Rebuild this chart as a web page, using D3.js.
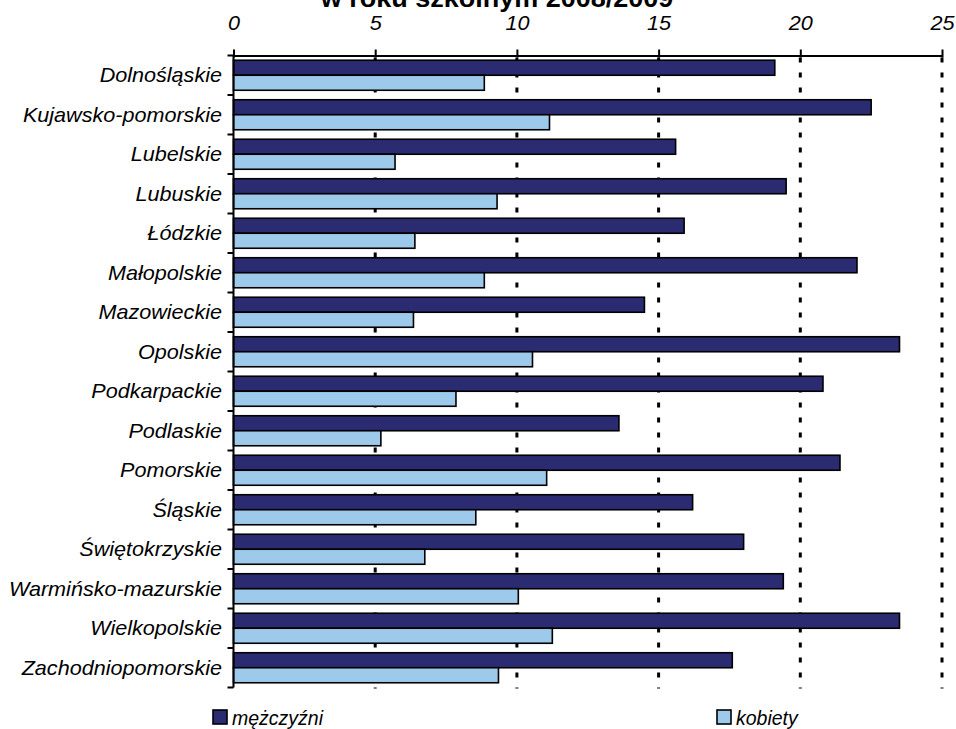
<!DOCTYPE html>
<html>
<head>
<meta charset="utf-8">
<script src="https://cdn.jsdelivr.net/npm/d3@7"></script>
<style>
  html, body { margin: 0; padding: 0; background: #fff; }
  svg { display: block; }
  text { font-family: "Liberation Sans", Arial, sans-serif; }
</style>
</head>
<body>
<svg id="chart" width="956" height="729"></svg>
<script>
// ---- data ----
const titleText = "w roku szkolnym 2008/2009";
const categories = [
  "Dolnośląskie", "Kujawsko-pomorskie", "Lubelskie", "Lubuskie", "Łódzkie",
  "Małopolskie", "Mazowieckie", "Opolskie", "Podkarpackie", "Podlaskie",
  "Pomorskie", "Śląskie", "Świętokrzyskie", "Warmińsko-mazurskie",
  "Wielkopolskie", "Zachodniopomorskie"
];
const seriesNames = ["mężczyźni", "kobiety"];
const men   = [19.1, 22.5, 15.6, 19.5, 15.9, 22.0, 14.5, 23.5, 20.8, 13.6, 21.4, 16.2, 18.0, 19.4, 23.5, 17.6];
const women = [8.85, 11.15, 5.7, 9.3, 6.4, 8.85, 6.35, 10.55, 7.85, 5.2, 11.05, 8.55, 6.75, 10.05, 11.25, 9.35];
const tickValues = [0, 5, 10, 15, 20, 25];
const colors = ["#2B2B72", "#9DCAEB"];

// ---- layout ----
const plot = { left: 233.5, right: 942, top: 55.5, bottom: 687.5 };
const stretch = 1.08; // the reference text is slightly wider than Arial

const svg = d3.select("#chart");

const x = d3.scaleLinear().domain([0, 25]).range([plot.left, plot.right]);
const y = d3.scaleBand().domain(categories).range([plot.top, plot.bottom])
  .paddingInner(0.24).paddingOuter(0.12);
const ySub = d3.scaleBand().domain(seriesNames).range([0, y.bandwidth()]);
const color = d3.scaleOrdinal().domain(seriesNames).range(colors);

// title (partially cut off at the top, as in the reference)
svg.append("text")
  .attr("transform", `translate(497,7) scale(${stretch},1)`)
  .attr("text-anchor", "middle")
  .attr("font-size", 25).attr("font-weight", "bold")
  .text(titleText);

// gridlines (dotted)
svg.append("g").selectAll("line")
  .data(tickValues.filter(d => d > 0))
  .join("line")
  .attr("x1", d => x(d)).attr("x2", d => x(d))
  .attr("y1", plot.top).attr("y2", plot.bottom + 1)
  .attr("stroke", "#000").attr("stroke-width", 3)
  .attr("stroke-dasharray", "5,10")
  .attr("stroke-dashoffset", -2);

// bars
const rows = categories.map((c, i) => ({ cat: c, values: [men[i], women[i]] }));
const groups = svg.append("g").selectAll("g.row").data(rows).join("g")
  .attr("class", "row")
  .attr("transform", d => `translate(0,${y(d.cat)})`);
groups.selectAll("rect")
  .data(d => seriesNames.map((s, j) => ({ s, v: d.values[j] })))
  .join("rect")
  .attr("x", x(0))
  .attr("y", d => ySub(d.s))
  .attr("width", d => x(d.v) - x(0))
  .attr("height", ySub.bandwidth())
  .attr("fill", d => color(d.s))
  .attr("stroke", "#000")
  .attr("stroke-width", 1.6);

// top axis
const xAxis = d3.axisTop(x).tickValues(tickValues).tickSizeInner(6).tickSizeOuter(0).tickPadding(12);
const ax = svg.append("g").attr("transform", `translate(0,${plot.top})`).call(xAxis);
ax.select(".domain").attr("stroke", "#000").attr("stroke-width", 2);
ax.selectAll(".tick line").attr("stroke", "#000").attr("stroke-width", 2).attr("y2", -6).attr("y1", 2);
ax.selectAll(".tick text")
  .attr("font-size", 20).attr("font-style", "italic").attr("fill", "#000")
  .attr("font-family", "'Liberation Sans', Arial, sans-serif")
  .attr("y", null).attr("dy", null)
  .attr("transform", `translate(0,-26) scale(${stretch},1)`);

// left axis line
svg.append("line")
  .attr("x1", plot.left).attr("x2", plot.left)
  .attr("y1", plot.top).attr("y2", plot.bottom)
  .attr("stroke", "#000").attr("stroke-width", 2);

// category boundary ticks
const bounds = d3.range(categories.length + 1).map(i => y.range()[0] + i * y.step());
svg.append("g").selectAll("line").data(bounds).join("line")
  .attr("x1", plot.left - 6).attr("x2", plot.left)
  .attr("y1", d => d).attr("y2", d => d)
  .attr("stroke", "#000").attr("stroke-width", 2);

// category labels
svg.append("g").selectAll("text").data(categories).join("text")
  .attr("transform", d => `translate(222,${y(d) + y.bandwidth() / 2}) scale(${stretch},1)`)
  .attr("dy", "0.35em")
  .attr("text-anchor", "end")
  .attr("font-size", 20).attr("font-style", "italic")
  .text(d => d);

// legend
const legendX = [213, 717];
const lg = svg.append("g").selectAll("g").data(seriesNames).join("g")
  .attr("transform", (d, i) => `translate(${legendX[i]},710)`);
lg.append("rect")
  .attr("width", 14).attr("height", 14)
  .attr("fill", d => color(d)).attr("stroke", "#000").attr("stroke-width", 1.6);
lg.append("text")
  .attr("x", 19).attr("y", 15)
  .attr("font-size", 19.5).attr("font-style", "italic")
  .text(d => d);
</script>
</body>
</html>
